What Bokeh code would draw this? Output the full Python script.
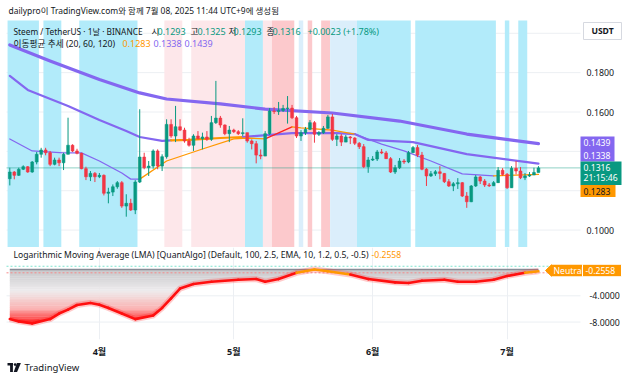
import numpy as np
from bokeh.plotting import figure
from bokeh.models import ColumnDataSource, Range1d, FixedTicker, BoxAnnotation, Label
from bokeh.layouts import column
from bokeh.embed import file_html
from bokeh.resources import INLINE
from bokeh.core.properties import value

FONT = "'Noto Sans', 'Noto Sans CJK KR', sans-serif"
DARK = "#131722"
GREEN = "#089981"
RED = "#f23645"
ORANGE = "#ff9800"
PURPLE = "#8467f0"
GRID = "#eceff3"

# ---------------- data ----------------
first_open = 0.1261
close = [0.1295, 0.1278, 0.1309, 0.1322, 0.1295, 0.1346, 0.1385, 0.1407, 0.1393, 0.1334,
         0.1356, 0.1342, 0.1385, 0.1431, 0.1402, 0.1390, 0.1312, 0.1271, 0.1288, 0.1271,
         0.1278, 0.1187, 0.1193, 0.1220, 0.1241, 0.1122, 0.1136, 0.1102, 0.1244, 0.1371,
         0.1317, 0.1325, 0.1402, 0.1325, 0.1373, 0.1537, 0.1478, 0.1525, 0.1508, 0.1453,
         0.1431, 0.1478, 0.1464, 0.1473, 0.1461, 0.1546, 0.1569, 0.1534, 0.1490, 0.1508,
         0.1500, 0.1490, 0.1495, 0.1453, 0.1439, 0.1381, 0.1376, 0.1490, 0.1605, 0.1602,
         0.1608, 0.1618, 0.1620, 0.1571, 0.1478, 0.1495, 0.1512, 0.1546, 0.1487, 0.1495,
         0.1517, 0.1575, 0.1461, 0.1478, 0.1447, 0.1473, 0.1468, 0.1441, 0.1424, 0.1322,
         0.1356, 0.1361, 0.1397, 0.1392, 0.1363, 0.1295, 0.1317, 0.1351, 0.1346, 0.1393,
         0.1419, 0.1381, 0.1309, 0.1275, 0.1286, 0.1296, 0.1288, 0.1246, 0.1224, 0.1235,
         0.1241, 0.1173, 0.1144, 0.1224, 0.1270, 0.1249, 0.1229, 0.1225, 0.1241, 0.1304,
         0.1283, 0.1215, 0.1314, 0.1300, 0.1266, 0.1275, 0.1280, 0.1293, 0.1316]
high = [0.1317, 0.1300, 0.1317, 0.1329, 0.1325, 0.1351, 0.1397, 0.1418, 0.1418, 0.1402,
        0.1368, 0.1368, 0.1393, 0.1571, 0.1436, 0.1413, 0.1393, 0.1322, 0.1300, 0.1295,
        0.1290, 0.1283, 0.1215, 0.1232, 0.1249, 0.1249, 0.1182, 0.1159, 0.1254, 0.1614,
        0.1393, 0.1351, 0.1410, 0.1410, 0.1385, 0.1563, 0.1563, 0.1631, 0.1563, 0.1520,
        0.1469, 0.1487, 0.1503, 0.1495, 0.1503, 0.1580, 0.1758, 0.1580, 0.1537, 0.1529,
        0.1515, 0.1508, 0.1568, 0.1495, 0.1461, 0.1453, 0.1410, 0.1503, 0.1620, 0.1625,
        0.1651, 0.1636, 0.1681, 0.1636, 0.1580, 0.1508, 0.1524, 0.1559, 0.1554, 0.1503,
        0.1529, 0.1585, 0.1590, 0.1488, 0.1488, 0.1483, 0.1478, 0.1472, 0.1447, 0.1437,
        0.1371, 0.1376, 0.1407, 0.1412, 0.1402, 0.1371, 0.1331, 0.1366, 0.1361, 0.1402,
        0.1427, 0.1432, 0.1397, 0.1315, 0.1300, 0.1305, 0.1325, 0.1290, 0.1259, 0.1244,
        0.1264, 0.1244, 0.1193, 0.1229, 0.1280, 0.1275, 0.1259, 0.1239, 0.1249, 0.1320,
        0.1315, 0.1290, 0.1325, 0.1351, 0.1320, 0.1290, 0.1295, 0.1317, 0.1325]
low = [0.1227, 0.1258, 0.1275, 0.1305, 0.1291, 0.1291, 0.1334, 0.1368, 0.1380, 0.1325,
       0.1329, 0.1325, 0.1305, 0.1385, 0.1397, 0.1385, 0.1309, 0.1254, 0.1249, 0.1244,
       0.1264, 0.1176, 0.1136, 0.1173, 0.1210, 0.1113, 0.1068, 0.1097, 0.1081, 0.1239,
       0.1309, 0.1275, 0.1312, 0.1309, 0.1300, 0.1363, 0.1469, 0.1447, 0.1503, 0.1444,
       0.1424, 0.1402, 0.1461, 0.1410, 0.1453, 0.1453, 0.1539, 0.1520, 0.1482, 0.1447,
       0.1493, 0.1483, 0.1478, 0.1444, 0.1410, 0.1339, 0.1360, 0.1376, 0.1483, 0.1590,
       0.1585, 0.1600, 0.1541, 0.1564, 0.1468, 0.1453, 0.1483, 0.1508, 0.1444, 0.1478,
       0.1488, 0.1514, 0.1453, 0.1427, 0.1427, 0.1447, 0.1437, 0.1432, 0.1412, 0.1315,
       0.1291, 0.1351, 0.1351, 0.1386, 0.1361, 0.1290, 0.1285, 0.1310, 0.1336, 0.1340,
       0.1392, 0.1371, 0.1304, 0.1224, 0.1270, 0.1275, 0.1258, 0.1239, 0.1219, 0.1198,
       0.1209, 0.1168, 0.1113, 0.1142, 0.1219, 0.1234, 0.1219, 0.1219, 0.1224, 0.1239,
       0.1275, 0.1209, 0.1214, 0.1283, 0.1259, 0.1254, 0.1270, 0.1280, 0.1293]

# moving-average trend lines (sampled at bar indices)
ma120_idx = [1, 10, 21, 30, 36, 48, 58, 73, 88, 103, 119]
ma120_val = [0.1941, 0.1859, 0.1765, 0.1697, 0.1666, 0.1641, 0.1615, 0.1595, 0.1554, 0.1488, 0.1439]
ma60_idx = [1, 5, 14, 21, 27, 30, 35, 37, 41, 48, 53, 64, 74, 78, 81, 91, 103, 119]
ma60_val = [0.1783, 0.1712, 0.1631, 0.1559, 0.1503, 0.1473, 0.1453, 0.1456, 0.1458, 0.1468,
            0.1473, 0.1493, 0.1493, 0.1488, 0.1458, 0.1447, 0.1386, 0.1338]
ma20_idx = [1, 6, 13, 17, 21, 26, 28, 30, 36, 44, 51, 54, 58, 64, 66, 73, 78, 84, 89, 95,
            102, 109, 112, 119]
ma20_val = [0.1463, 0.1402, 0.1392, 0.1392, 0.1351, 0.1290, 0.1259, 0.1259, 0.1351, 0.1412,
            0.1463, 0.1468, 0.1463, 0.1524, 0.1519, 0.1508, 0.1488, 0.1437, 0.1402, 0.1351,
            0.1286, 0.1275, 0.1278, 0.1283]
ma120_colors = [(1, 119, PURPLE)]
ma60_colors = [(1, 37, PURPLE), (37, 53, ORANGE), (53, 119, PURPLE)]
ma20_colors = [(1, 30, PURPLE), (30, 58, ORANGE), (58, 64, "#ff2020"), (64, 78, ORANGE),
               (78, 109, PURPLE), (109, 119, ORANGE)]

# background trend bands (bar-index edges)
bands_cyan = [(0.5, 7.5), (8.5, 12.5), (16.5, 29.5), (53.5, 57.5), (78.5, 90.5),
              (91.5, 109.5), (111.5, 112.5), (114.5, 116.5)]
bands_lpink = [(35.5, 39.5), (41.5, 53.5), (57.5, 59.5)]
bands_mpink = [(59.5, 64.5), (67.5, 68.5), (70.5, 72.5)]
bands_pblue = [(65.5, 66.5), (72.5, 78.5)]

# Logarithmic Moving Average oscillator
lma_idx = [1, 3, 6, 10, 12, 14, 16, 19, 21, 23, 26, 29, 33, 35, 37, 39, 42, 46, 52, 56, 58,
           61, 65, 69, 72, 77, 81, 87, 90, 93, 98, 101, 105, 109, 112, 116, 119]
lma_val = [-7.55, -7.9, -8.2, -7.55, -6.7, -6.1, -5.4, -5.1, -5.35, -5.85, -6.7, -7.55, -7.0,
           -5.85, -4.4, -2.9, -2.2, -1.85, -1.55, -1.45, -1.85, -1.45, -0.5, 0.0, -0.25, -0.75,
           -1.45, -1.95, -2.05, -1.7, -1.55, -1.85, -1.85, -1.55, -0.98, -0.48, -0.2558]

month_ticks = [21, 51, 82, 112]
month_labels = ["4월", "5월", "6월", "7월"]
price_grid = [0.10, 0.12, 0.14, 0.16, 0.18, 0.20]
price_labeled = [0.10, 0.16, 0.18]
lma_ticks = [-8, -4]

# ---------------- layout (pixels of the 624 x 374 layout) ----------------
W = 624
H1 = 247                 # price pane canvas (frame fills it)
H2 = 113                 # oscillator canvas: 96 px frame + month axis
F2_H = 96
H3 = 374 - H1 - H2       # footer strip


def px_to_idx(px):       # horizontal pixel -> bar index (4.48 px per bar)
    return 1 + (px - 9.3) / 4.48


def py_to_price(py):     # price pane: 0.16 at y=111.5, 1968 px per unit
    return 0.16 + (111.5 - py) / 1968.0


def py_to_lma(py):       # oscillator: 0 at y=270, 6.85 px per unit
    return (270 - py) / 6.85


XR = Range1d(px_to_idx(0), px_to_idx(W))
PANE_TOP = py_to_price(20)
PLOT_LEFT = px_to_idx(6)
PLOT_RIGHT = px_to_idx(580)
TAG_L = px_to_idx(580)


def lab(p, fb, px, py, text, color=DARK, size="9px", align="left", style="normal"):
    p.add_layout(Label(x=px, y=fb - py, x_units="screen", y_units="screen", text=text,
                       text_color=color, text_font=FONT, text_font_size=size,
                       text_align=align, text_baseline="middle", text_font_style=style))


def ptext(p, x, y, text, color, size="8.6px", align="left", style="normal"):
    p.text(x=[x], y=[y], text=[text], text_font=value(FONT), text_font_size=size,
           text_color=color, text_baseline="middle", text_align=align,
           text_font_style=style)


# ---------------- price pane ----------------
p1 = figure(width=W, height=H1, x_range=XR, y_range=Range1d(py_to_price(H1), py_to_price(0)),
            output_backend="svg", toolbar_location=None, x_axis_location=None,
            y_axis_location=None, min_border=0)
p1.outline_line_color = None
p1.grid.grid_line_color = None

g = p1.segment(x0=PLOT_LEFT, x1=PLOT_RIGHT, y0=price_grid, y1=price_grid,
               line_color=GRID, line_width=1)
g.level = "underlay"
g = p1.segment(x0=month_ticks, x1=month_ticks, y0=py_to_price(H1), y1=PANE_TOP,
               line_color=GRID, line_width=1)
g.level = "underlay"

for bl, col in [(bands_cyan, "#b2ebfa"), (bands_lpink, "#fde7ea"),
                (bands_mpink, "#fcc9cc"), (bands_pblue, "#dbeefb")]:
    for a, b in bl:
        p1.add_layout(BoxAnnotation(left=a, right=b, top=PANE_TOP, fill_color=col,
                                    fill_alpha=1.0, line_color=None, level="underlay"))

p1.segment(x0=PLOT_LEFT, x1=PLOT_RIGHT, y0=close[-1], y1=close[-1], line_color=GREEN,
           line_width=1, line_alpha=0.45)


def seg_lines(p, xs, ys, breaks, width):
    xs = np.asarray(xs, dtype=float)
    ys = np.asarray(ys, dtype=float)
    for a, b, col in breaks:
        m = (xs >= a) & (xs <= b)
        p.line(xs[m], ys[m], line_color=col, line_width=width, line_join="round",
               line_cap="round")


seg_lines(p1, ma120_idx, ma120_val, ma120_colors, 3.2)
seg_lines(p1, ma60_idx, ma60_val, ma60_colors, 2.2)
seg_lines(p1, ma20_idx, ma20_val, ma20_colors, 1.3)

idx = np.arange(1, len(close) + 1)
c = np.array(close)
o = np.array([first_open] + close[:-1])
cols = np.where(c >= o, GREEN, RED)
src = ColumnDataSource(dict(x=idx, top=np.maximum(o, c), bottom=np.minimum(o, c),
                            high=high, low=low, color=cols))
p1.segment(x0="x", y0="low", x1="x", y1="high", line_color="color", line_width=1, source=src)
p1.vbar(x="x", width=0.62, top="top", bottom="bottom", fill_color="color",
        line_color="color", line_width=0.6, source=src)

# price scale labels
p1.text(x=[px_to_idx(586)] * len(price_labeled), y=price_labeled,
        text=["%.4f" % v for v in price_labeled], text_font=value(FONT),
        text_font_size="8.8px", text_color=DARK, text_baseline="middle", text_align="left")

# right-scale tags (boxes then texts)
p1.quad(left=px_to_idx(583), right=px_to_idx(621), top=py_to_price(22), bottom=py_to_price(39),
        fill_color="white", line_color="#d6d9e0", line_width=1)
ptext(p1, px_to_idx(602), py_to_price(30.5), "USDT", DARK, align="center", style="bold")
p1.quad(left=TAG_L, right=px_to_idx(614), top=py_to_price(136), bottom=py_to_price(161),
        fill_color=PURPLE, line_color=None)
p1.quad(left=TAG_L, right=px_to_idx(621), top=py_to_price(161), bottom=py_to_price(184.5),
        fill_color=GREEN, line_color=None)
p1.quad(left=TAG_L, right=px_to_idx(615), top=py_to_price(184.5), bottom=py_to_price(196.5),
        fill_color=ORANGE, line_color=None)
ptext(p1, px_to_idx(583), py_to_price(142), "0.1439", "white")
ptext(p1, px_to_idx(583), py_to_price(155), "0.1338", "white")
ptext(p1, px_to_idx(583), py_to_price(167), "0.1316", "white")
ptext(p1, px_to_idx(583), py_to_price(177.5), "21:15:46", "white")
ptext(p1, px_to_idx(583), py_to_price(190.5), "0.1283", DARK)

# header / legend texts
lab(p1, H1, 8, 10, "dailypro이 TradingView.com와 함께 7월 08, 2025 11:44 UTC+9에 생성됨",
    size="8.45px")
lab(p1, H1, 13, 31, "Steem / TetherUS · 1날 · BINANCE", size="8.3px")
for px, t in [(151, "시"), (190, "고"), (228, "저"), (266, "종")]:
    lab(p1, H1, px, 31, t, size="8.6px")
for px, t in [(157, "0.1293"), (197, "0.1325"), (233, "0.1293"), (272, "0.1316"),
              (307, "+0.0023 (+1.78%)")]:
    lab(p1, H1, px, 31, t, color=GREEN)
lab(p1, H1, 13, 43, "이동평균 추세 (20, 60, 120)", size="8.7px")
lab(p1, H1, 122, 43, "0.1283", color=ORANGE)
lab(p1, H1, 153, 43, "0.1338", color=PURPLE)
lab(p1, H1, 184, 43, "0.1439", color=PURPLE)

# ---------------- oscillator pane ----------------
p2 = figure(width=W, height=H2, x_range=XR,
            y_range=Range1d(py_to_lma(247 + F2_H), py_to_lma(247)),
            output_backend="svg", toolbar_location=None, x_axis_location="below",
            y_axis_location=None, min_border_left=0, min_border_right=0, min_border_top=0,
            min_border_bottom=H2 - F2_H)
p2.outline_line_color = None
p2.ygrid.grid_line_color = None
p2.xgrid.grid_line_color = GRID
p2.xgrid.ticker = FixedTicker(ticks=month_ticks)
ax = p2.xaxis[0]
ax.ticker = FixedTicker(ticks=month_ticks)
ax.major_label_overrides = {t: s for t, s in zip(month_ticks, month_labels)}
ax.axis_line_color = None
ax.major_tick_line_color = None
ax.minor_tick_line_color = None
ax.major_tick_out = 0
ax.major_tick_in = 0
ax.minor_tick_out = 0
ax.minor_tick_in = 0
ax.major_label_standoff = 5
ax.major_label_text_font = FONT
ax.major_label_text_font_size = "9px"
ax.major_label_text_font_style = "bold"
ax.major_label_text_color = DARK

g = p2.segment(x0=PLOT_LEFT, x1=PLOT_RIGHT, y0=lma_ticks, y1=lma_ticks,
               line_color=GRID, line_width=1)
g.level = "underlay"

lx = np.array(lma_idx, dtype=float)
lv = np.array(lma_val, dtype=float)

stops = [(0.0, (198, 198, 202)), (0.4, (238, 236, 237)), (0.72, (250, 178, 178)),
         (1.0, (255, 30, 30))]


def grad(t):
    for (t0, c0), (t1, c1) in zip(stops[:-1], stops[1:]):
        if t <= t1:
            f = (t - t0) / (t1 - t0)
            return "#%02x%02x%02x" % tuple(int(round(a + (b - a) * f)) for a, b in zip(c0, c1))
    return "#%02x%02x%02x" % stops[-1][1]


K = 30
lev = np.linspace(0.0, lv.min() - 0.1, K + 1)
for k in range(K):
    top = np.minimum(0.0, np.maximum(lv, lev[k] + 0.05 if k else lev[k]))
    bot = np.minimum(0.0, np.maximum(lv, lev[k + 1]))
    p2.varea(x=lx, y1=bot, y2=top, fill_color=grad((k + 0.5) / K))

p2.segment(x0=PLOT_LEFT, x1=px_to_idx(548), y0=0.5, y1=0.5, line_color="#7fe3cf",
           line_width=1, line_dash="2 2")
p2.segment(x0=PLOT_LEFT, x1=px_to_idx(548), y0=-0.5, y1=-0.5, line_color="#f78a8a",
           line_width=1, line_dash="2 2")
p2.line([lx[0], lx[-1]], [0, 0], line_color="#888c96", line_width=1.6)

p2.line(lx, lv, line_color="#ff2a2a", line_width=6, line_alpha=0.25, line_join="round")
seg_col = np.where((lv[:-1] + lv[1:]) / 2 >= -0.5, ORANGE, "#ff1010")
p2.segment(x0=lx[:-1], y0=lv[:-1], x1=lx[1:], y1=lv[1:], line_color=seg_col,
           line_width=2.6, line_cap="round")

p2.text(x=[px_to_idx(589)] * len(lma_ticks), y=lma_ticks,
        text=["%.4f" % v for v in lma_ticks], text_font=value(FONT),
        text_font_size="8.8px", text_color=DARK, text_baseline="middle", text_align="left")

# oscillator tags
p2.patch(x=[px_to_idx(545), px_to_idx(551), px_to_idx(551)],
         y=[py_to_lma(271), py_to_lma(265), py_to_lma(277)], fill_color=ORANGE,
         line_color=ORANGE)
p2.quad(left=px_to_idx(551), right=px_to_idx(590), top=py_to_lma(265), bottom=py_to_lma(277),
        fill_color=ORANGE, line_color=None)
ptext(p2, px_to_idx(553), py_to_lma(271), "Neutral", "white")
p2.quad(left=px_to_idx(582), right=px_to_idx(621), top=py_to_lma(264.5),
        bottom=py_to_lma(277.5), fill_color=ORANGE, line_color="white", line_width=1)
ptext(p2, px_to_idx(585), py_to_lma(271), "-0.2558", "white")

F2B = 247 + F2_H
lab(p2, F2B, 13, 258,
    "Logarithmic Moving Average (LMA) [QuantAlgo] (Default, 100, 2.5, EMA, 10, 1.2, 0.5, -0.5)",
    size="8.6px")
lab(p2, F2B, 371, 258, "-0.2558", color=ORANGE, size="8.6px")

# ---------------- footer (logo + wordmark) ----------------
p3 = figure(width=W, height=H3, x_range=Range1d(0, W), y_range=Range1d(0, H3),
            output_backend="svg", toolbar_location=None, x_axis_location=None,
            y_axis_location=None, min_border=0)
p3.outline_line_color = None
p3.grid.grid_line_color = None
IT, IB = H3 - 2.5, 2.5
p3.quad(left=[7, 9.6], right=[12.4, 12.4], top=[IT, IT], bottom=[IT - 2.6, IB],
        fill_color=DARK, line_color=None)
p3.circle(x=[14.6], y=[IT - 1.6], radius=1.3, fill_color=DARK, line_color=None)
p3.patch(x=[16.4, 20.4, 16.6, 13.2], y=[IT, IT, IB, IB], fill_color=DARK, line_color=None)
p3.add_layout(Label(x=24, y=H3 / 2, x_units="screen", y_units="screen", text="TradingView",
                    text_color=DARK, text_font=FONT, text_font_size="9.5px",
                    text_baseline="middle", text_align="left"))

layout = column(p1, p2, p3, spacing=0)
open("out.html", "w").write(file_html(layout, INLINE))
